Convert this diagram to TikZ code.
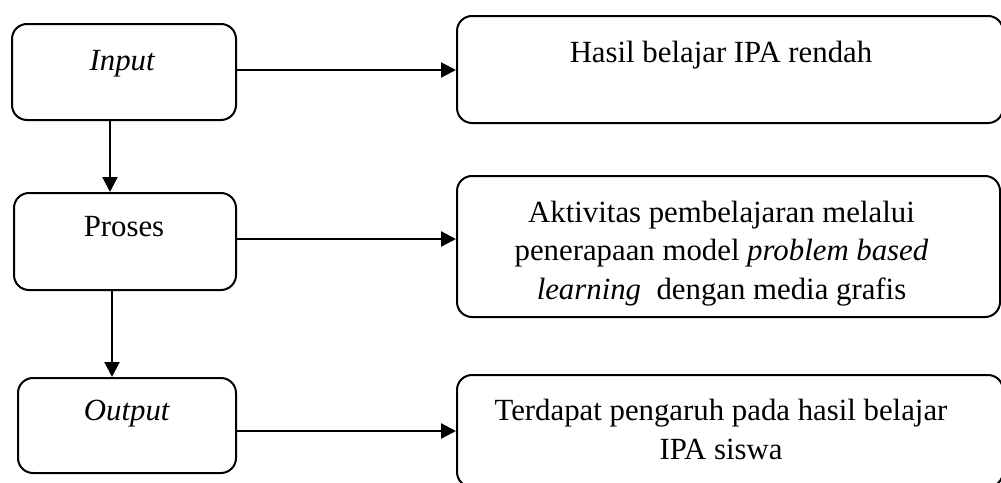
\documentclass[tikz,border=0pt]{standalone}
\usepackage{fontspec}
\setmainfont{Liberation Serif}
\usetikzlibrary{arrows.meta,positioning}

\begin{document}
\begin{tikzpicture}[x=0.5pt,y=-0.5pt,->,>={Triangle[length=7.5pt,width=7.5pt]},line width=1.1pt]
  \tikzstyle{box}=[draw,rounded corners=7.5pt,line width=1pt,inner sep=0pt]
  \tikzstyle{txt}=[font=\fontsize{15.4pt}{19.4pt}\selectfont,align=center,inner sep=0pt]
  \useasboundingbox (0,0) rectangle (1001,482);

  % left column
  \node[box,minimum width=112pt,minimum height=48pt]   (in)  at (124,72)    {};
  \node[box,minimum width=111pt,minimum height=48.5pt] (pr)  at (125,241.5) {};
  \node[box,minimum width=109pt,minimum height=47.5pt] (out) at (127,425.5) {};

  % right column
  \node[box,minimum width=273pt,minimum height=53.5pt]   (hasil)  at (730,69.5)    {};
  \node[box,minimum width=271.5pt,minimum height=70.5pt] (aktif)  at (728.5,246.5) {};
  \node[box,minimum width=273pt,minimum height=56pt]     (dampak) at (730,431)     {};

  % texts
  \node[txt,anchor=base]  (in-t)     at (122.5,70)   {\textit{Input}};
  \node[txt,anchor=base]  (pr-t)     at (124,236.7)  {Proses};
  \node[txt,anchor=base]  (out-t)    at (127,420)    {\textit{Output}};
  \node[txt,anchor=base]  (hasil-t)  at (721,62.7)   {Hasil belajar IPA rendah};
  \node[txt,anchor=north] (aktif-t)  at (721.5,199.6)
    {Aktivitas pembelajaran melalui\\penerapaan model \textit{problem based}\\\textit{learning}~ dengan media grafis};
  \node[txt,anchor=north] (dampak-t) at (721,398.5)
    {Terdapat pengaruh pada hasil belajar\\IPA siswa};

  % connectors
  \draw ([yshift=1pt]in.east)     -- ([yshift=1pt]in.east -| hasil.west);
  \draw ([yshift=1.25pt]pr.east)  -- ([yshift=1.25pt]pr.east -| aktif.west);
  \draw ([yshift=-2.75pt]out.east) -- ([yshift=-2.75pt]out.east -| dampak.west);
  \draw ([xshift=-7pt]in.south)   -- ([xshift=-7pt]in.south |- pr.north);
  \draw ([xshift=-6.5pt]pr.south) -- ([xshift=-6.5pt]pr.south |- out.north);
\end{tikzpicture}
\end{document}
